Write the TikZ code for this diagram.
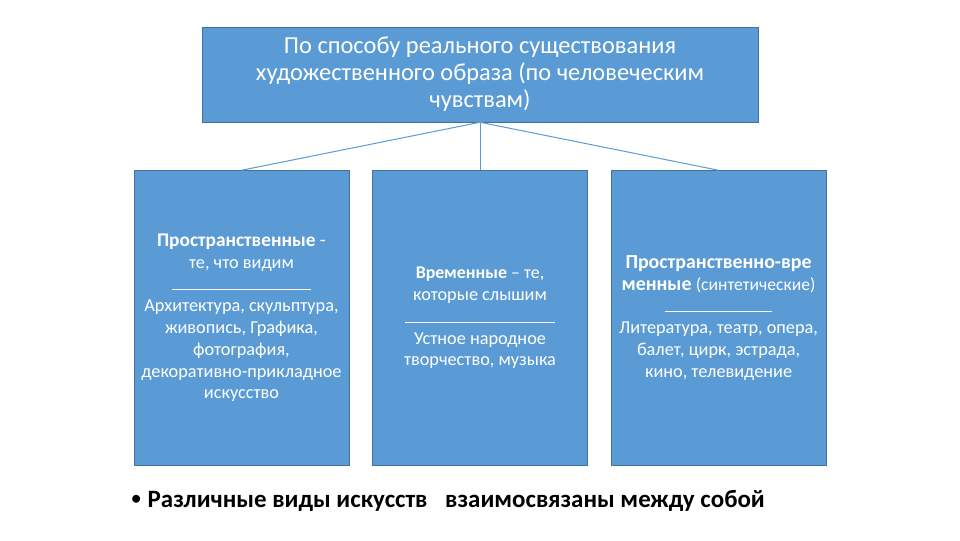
\documentclass[tikz,border=0pt]{standalone}
\usepackage{fontspec}
\setmainfont{Carlito}
\usetikzlibrary{positioning}
\definecolor{boxblue}{HTML}{5B9BD5}
\definecolor{boxedge}{HTML}{41719C}

\begin{document}
\begin{tikzpicture}[
    node distance=36pt and 17.25pt,
    topbox/.style={draw=boxedge, fill=boxblue, minimum width=417pt,
                   minimum height=71.25pt, align=center, text=white,
                   inner sep=0pt, font=\fontsize{18.3}{20.25}\selectfont},
    kindbox/.style={draw=boxedge, fill=boxblue, minimum width=161.25pt,
                    minimum height=221.25pt, align=center, text=white,
                    inner sep=0pt, font=\fontsize{13.7}{16.3}\selectfont},
    link/.style={draw=boxblue, line width=0.75pt},
]
\useasboundingbox (0,0) rectangle (720pt,-405pt);

% Top
\node[topbox] (top) at (360pt,-55.875pt)
     {По способу реального существования\\художественного образа (по человеческим\\чувствам)};

% Kinds
\node[kindbox, below=of top] (time)
     {\fontsize{13.4}{16.3}\selectfont\textbf{Временные} – те,\\
      которые слышим\\
      \rule{113pt}{0.6pt}\\
      Устное народное\\творчество, музыка};
\node[kindbox, left=of time] (space)
     {{\fontsize{14.5}{16.3}\selectfont\textbf{Пространственные} -}\\
      те, что видим\\
      \rule{104pt}{0.6pt}\\
      Архитектура, скульптура,\\живопись, Графика,\\фотография,\\
      декоративно-прикладное\\искусство};
\node[kindbox, right=of time] (both)
     {{\fontsize{14.9}{16.3}\selectfont\textbf{Пространственно-вре}}\\
      {\fontsize{14.9}{16.3}\selectfont\textbf{менные}} {\fontsize{13.2}{16.3}\selectfont(синтетические)}\\
      \rule{80pt}{0.6pt}\\
      Литература, театр, опера,\\балет, цирк, эстрада,\\кино, телевидение};

% Links
\draw[link] (top.south) -- (space.north);
\draw[link] (top.south) -- (time.north);
\draw[link] (top.south) -- (both.north);

% Note
\node[anchor=base west, font=\fontsize{18.7}{20}\selectfont\bfseries] (note)
     at (95.25pt,-380.25pt)
     {\raisebox{2.2pt}{\fontsize{14}{14}\selectfont•}\hspace{5pt}Различные виды искусств\hspace{9pt} взаимосвязаны между собой};
\end{tikzpicture}
\end{document}
